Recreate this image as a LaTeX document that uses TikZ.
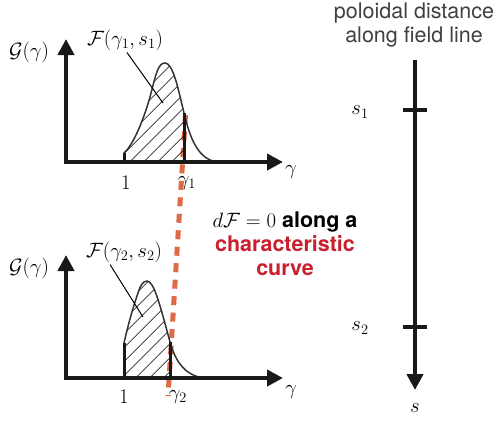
\documentclass[tikz,border=0pt]{standalone}
\usepackage{amsmath}
\usepackage{fontspec}
\setsansfont{TeX Gyre Heros}
\usetikzlibrary{arrows.meta,patterns.meta}
\definecolor{charred}{RGB}{200,32,46}
\definecolor{dashorange}{RGB}{222,106,72}
\definecolor{titlegray}{RGB}{64,64,64}

\begin{document}
\begin{tikzpicture}[x=1pt, y=-1pt,
    font=\fontsize{21.5}{24.5}\selectfont,
    every node/.style={inner sep=2pt},
    >={Triangle[length=16pt,width=16pt]},
    axes/.style={line width=4.5pt, draw=black!90, line join=miter},
    dist/.style={line width=1.5pt, draw=black!80},
    hatch/.style={pattern={Lines[angle=45,distance=10.5pt,line width=0.8pt]}},
    cutline/.style={line width=3pt, draw=black!90},
    leader/.style={line width=1pt},
    charline/.style={draw=dashorange, line width=5pt, dash pattern=on 9pt off 7.5pt},
    ticker/.style={line width=4pt, draw=black!90},
    note/.style={align=center, font=\fontsize{21.5}{24}\selectfont\sffamily\bfseries},
    title/.style={align=center, text=titlegray, font=\fontsize{21.5}{24.5}\selectfont\sffamily}
  ]
    \useasboundingbox (0,0) rectangle (498,421);

    % characteristic curve
    \coordinate (chartop) at (185.5,115);
    \coordinate (charbot) at (168,396);
    \draw[charline] (chartop) -- (charbot);

    % upper distribution
    \begin{scope}
      \clip (124,40) rectangle (184,162);
      \fill[hatch] (124,162) -- (124,153) .. controls (132,146) and (142,125) .. (150,97)
        .. controls (156,74) and (158,63) .. (165,63)
        .. controls (173,63) and (178,88) .. (184,113)
        .. controls (190,138) and (198,160) .. (218,162) -- cycle;
    \end{scope}
    \draw[dist] (124,153) .. controls (132,146) and (142,125) .. (150,97)
      .. controls (156,74) and (158,63) .. (165,63)
      .. controls (173,63) and (178,88) .. (184,113)
      .. controls (190,138) and (198,160) .. (218,162);
    \draw[cutline] (124,162) -- (124,153);
    \draw[cutline] (184,162) -- (184,113);
    \draw[axes,<->] (66,39) |- (283,162);

    \node (gtop) at (29,52) {$\mathcal{G}(\gamma)$};
    \node (gammatop) at (291,172) {$\gamma$};
    \node (onetop) at (126,183) {$1$};
    \node (gonetop) at (187,183) {$\gamma_1$};
    \node (ftop) at (125,40) {$\mathcal{F}(\gamma_1,s_1)$};
    \coordinate (areatop) at (163,103);
    \draw[leader] ([xshift=2pt]ftop.south) -- (areatop);

    % lower distribution
    \begin{scope}
      \clip (124,260) rectangle (170,378);
      \fill[hatch] (124,378) -- (124,343) .. controls (127,330) and (132,310) .. (137,296)
        .. controls (140,287) and (142,281) .. (147,281)
        .. controls (154,281) and (160,305) .. (170,342)
        .. controls (174,356) and (182,376) .. (205,378) -- cycle;
    \end{scope}
    \draw[dist] (124,343) .. controls (127,330) and (132,310) .. (137,296)
      .. controls (140,287) and (142,281) .. (147,281)
      .. controls (154,281) and (160,305) .. (170,342)
      .. controls (174,356) and (182,376) .. (205,378);
    \draw[cutline] (124,378) -- (124,343);
    \draw[cutline] (170,378) -- (170,342);
    \draw[axes,<->] (66,255) |- (283,378);

    \node (gbot) at (29,268) {$\mathcal{G}(\gamma)$};
    \node (gammabot) at (291,392) {$\gamma$};
    \node (onebot) at (124,397) {$1$};
    \node (gtwobot) at (178,397) {$\gamma_2$};
    \node (fbot) at (124,252) {$\mathcal{F}(\gamma_2,s_2)$};
    \coordinate (areabot) at (143,317);
    \draw[leader] ([xshift=-14pt]fbot.south) -- (areabot);

    \node[note] (charnote) at (285,244)
      {$d\mathcal{F}=0$ along a\\ \textcolor{charred}{characteristic}\\ \textcolor{charred}{curve}};

    % poloidal distance axis
    \node[title] (poltitle) at (414,25) {poloidal distance\\along field line};
    \coordinate (poltop) at (415,60);
    \coordinate (polend) at (415,390);
    \draw[axes,->] (poltop) -- (polend);
    \draw[ticker] (403,110) -- (427,110);
    \draw[ticker] (403,327) -- (427,327);
    \node (sone) at (360,112) {$s_1$};
    \node (stwo) at (360,328) {$s_2$};
    \node (sdist) at (415,408) {$s$};
  \end{tikzpicture}
\end{document}
